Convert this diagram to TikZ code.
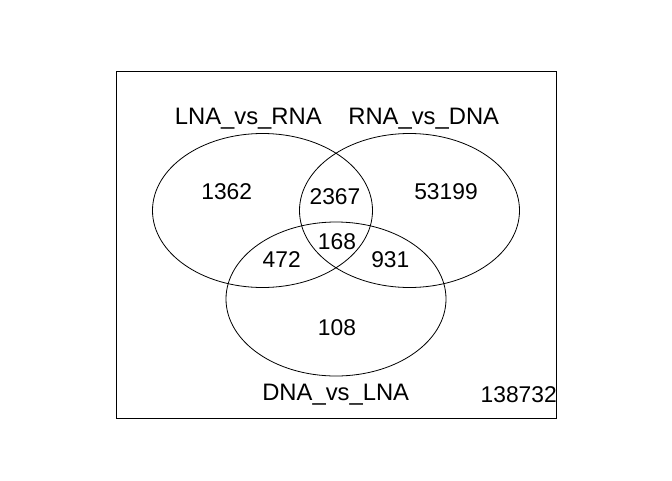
\documentclass[tikz,border=0pt]{standalone}
\usepackage{fontspec}
\setmainfont{Liberation Sans}
\usetikzlibrary{shapes.geometric}
\begin{document}
\begin{tikzpicture}[x=1pt,y=-1pt,
  venn/.style={draw,ellipse,line width=0.8pt,minimum width=220pt,minimum height=154pt,inner sep=0pt},
  lbl/.style={anchor=base,inner sep=0pt,font=\fontsize{22.8}{27}\selectfont},
  title/.style={lbl,font=\fontsize{23.8}{28}\selectfont}]
\useasboundingbox (0,0) rectangle (672,480);
\node[draw,line width=0.8pt,inner sep=0pt,minimum width=440pt,minimum height=347pt] (frame) at (336,245) {};
\node[venn] (A) at (262.5,210.5) {};
\node[venn] (B) at (409.5,210.5) {};
\node[venn] (C) at (336,299) {};
\node[title] (la) at (248.3,124) {LNA\_vs\_RNA};
\node[title] (lb) at (423.7,124) {RNA\_vs\_DNA};
\node[title] (lc) at (335.7,400) {DNA\_vs\_LNA};
\node[lbl] (n1) at (226.7,199) {1362};
\node[lbl] (n2) at (335,204) {2367};
\node[lbl] (n3) at (446,199) {53199};
\node[lbl] (n4) at (337,249) {168};
\node[lbl] (n5) at (281.7,267) {472};
\node[lbl] (n6) at (390.3,267) {931};
\node[lbl] (n7) at (337,335.7) {108};
\node[lbl] (n8) at (518.7,402) {138732};
\end{tikzpicture}
\end{document}
